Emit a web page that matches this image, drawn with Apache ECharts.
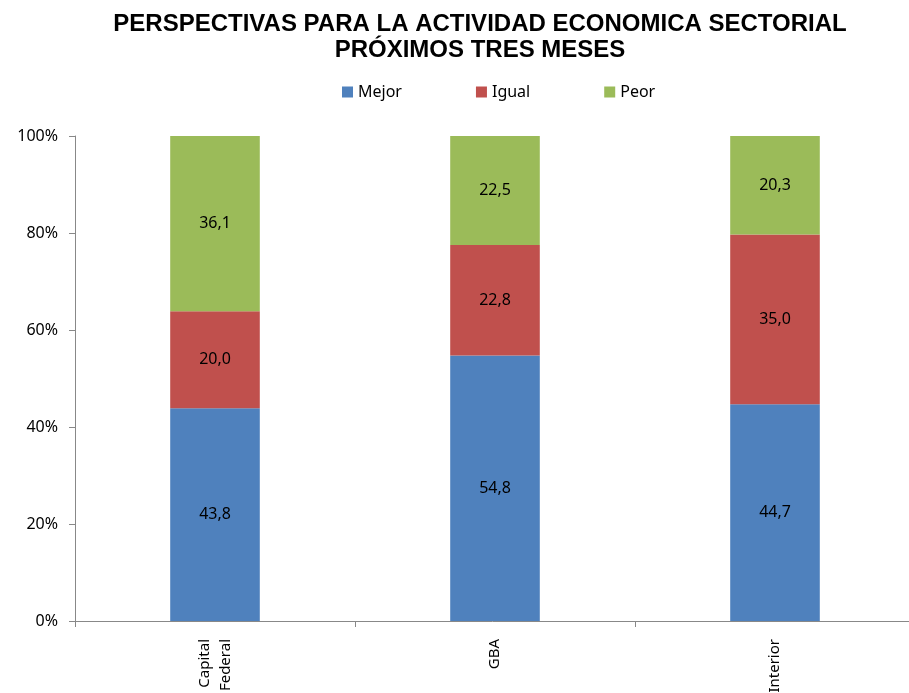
<!DOCTYPE html>
<html>
<head>
<meta charset="utf-8">
<script src="https://cdn.jsdelivr.net/npm/echarts@6/dist/echarts.min.js"></script>
<style>
  html, body { margin: 0; padding: 0; background: #fff; }
  #chart { width: 909px; height: 693px; }
</style>
</head>
<body>
<div id="chart"></div>
<script>
const categories = ['Capital\nFederal', 'GBA', 'Interior']
const mejor = [43.8, 54.8, 44.7]
const igual = [20.0, 22.8, 35.0]
const peor = [36.1, 22.5, 20.3]
const yTicks = [0, 20, 40, 60, 80, 100]

// 100% stacked, like the original spreadsheet chart
const totals = categories.map((c, i) => mejor[i] + igual[i] + peor[i])
const toShare = (arr) => arr.map((v, i) => ({ value: v / totals[i] * 100, raw: v }))

const labelFont = 'Noto Sans, sans-serif'

function seriesOf(name, arr, color) {
  return {
    name: name,
    type: 'bar',
    stack: 'total',
    barWidth: '32%',
    data: toShare(arr),
    itemStyle: { color: color },
    label: {
      show: true,
      position: 'inside',
      color: '#000',
      fontSize: 16,
      fontFamily: labelFont,
      formatter: (p) => p.data.raw.toFixed(1).replace('.', ',')
    }
  }
}

const chart = echarts.init(document.getElementById('chart'))
chart.setOption({
  backgroundColor: '#fff',
  animation: false,
  title: {
    text: 'PERSPECTIVAS PARA LA ACTIVIDAD ECONOMICA SECTORIAL\nPRÓXIMOS TRES MESES',
    left: 475,
    textAlign: 'center',
    top: 6,
    textStyle: {
      fontFamily: 'Liberation Sans, Arial, sans-serif',
      fontWeight: 'bold',
      fontSize: 24,
      lineHeight: 26,
      color: '#000'
    }
  },
  legend: {
    top: 79,
    left: 337,
    itemWidth: 11,
    itemHeight: 11,
    itemGap: 74,
    icon: 'rect',
    textStyle: { fontFamily: labelFont, fontSize: 16, color: '#000' },
    data: ['Mejor', 'Igual', 'Peor']
  },
  grid: { left: 75, top: 136, width: 840, height: 485, outerBoundsMode: 'none' },
  xAxis: {
    type: 'category',
    data: categories,
    axisLine: { lineStyle: { color: '#888' } },
    axisTick: { show: true, alignWithLabel: false, length: 6, lineStyle: { color: '#888' } },
    axisLabel: {
      rotate: 90,
      color: '#000',
      fontFamily: labelFont,
      fontSize: 15,
      lineHeight: 21,
      margin: 18,
      interval: 0
    }
  },
  yAxis: {
    type: 'value',
    min: 0,
    max: 100,
    interval: 20,
    axisLine: { show: true, lineStyle: { color: '#888' } },
    axisTick: { show: true, inside: false, length: 6, lineStyle: { color: '#888' } },
    splitLine: { show: false },
    axisLabel: {
      color: '#000',
      fontFamily: labelFont,
      fontSize: 16,
      margin: 17,
      formatter: (v) => yTicks.includes(v) ? v + '%' : ''
    }
  },
  series: [
    seriesOf('Mejor', mejor, '#4f81bd'),
    seriesOf('Igual', igual, '#c0504d'),
    seriesOf('Peor', peor, '#9bbb59')
  ]
})
</script>
</body>
</html>
